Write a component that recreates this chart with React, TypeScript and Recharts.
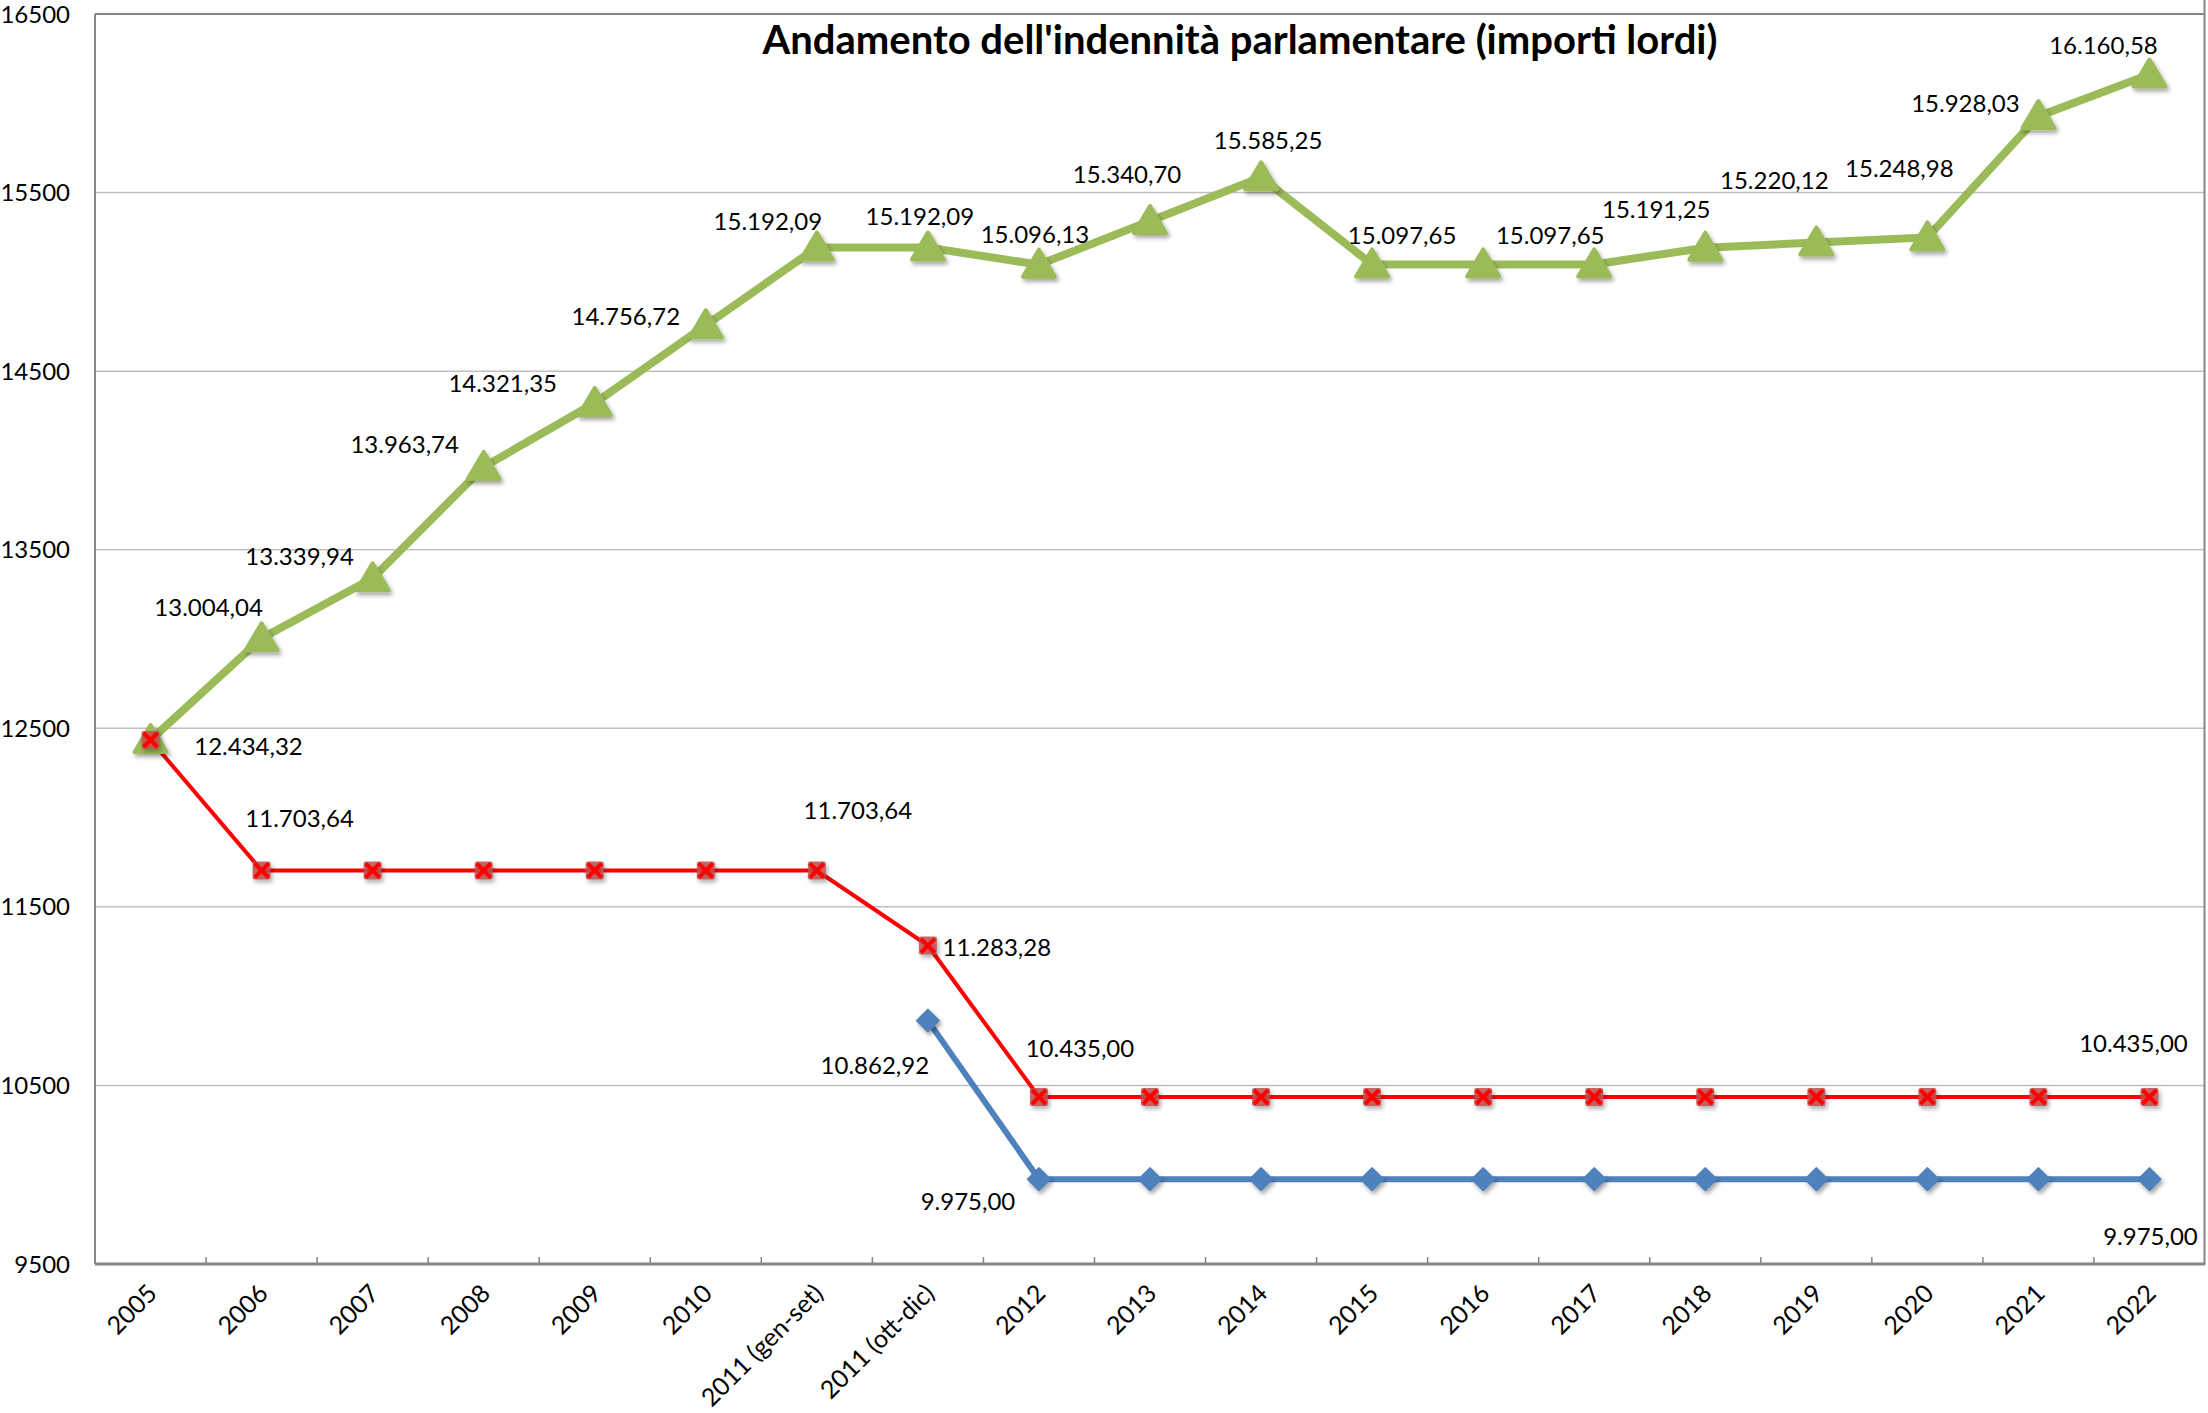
import React from "react";
import {
  LineChart,
  Line,
  XAxis,
  YAxis,
  CartesianGrid,
  ReferenceLine,
} from "recharts";

const categories = [
  "2005", "2006", "2007", "2008", "2009", "2010",
  "2011 (gen-set)", "2011 (ott-dic)",
  "2012", "2013", "2014", "2015", "2016", "2017",
  "2018", "2019", "2020", "2021", "2022",
];

// green line
const verde = [
  12434.32, 13004.04, 13339.94, 13963.74, 14321.35, 14756.72, 15192.09,
  15192.09, 15096.13, 15340.7, 15585.25, 15097.65, 15097.65, 15097.65,
  15191.25, 15220.12, 15248.98, 15928.03, 16160.58,
];

// red line
const rossa = [
  12434.32, 11703.64, 11703.64, 11703.64, 11703.64, 11703.64, 11703.64,
  11283.28, 10435.0, 10435.0, 10435.0, 10435.0, 10435.0, 10435.0,
  10435.0, 10435.0, 10435.0, 10435.0, 10435.0,
];

// blue line (starts in ott-dic 2011)
const blu = [
  null, null, null, null, null, null, null,
  10862.92, 9975.0, 9975.0, 9975.0, 9975.0, 9975.0, 9975.0,
  9975.0, 9975.0, 9975.0, 9975.0, 9975.0,
];

const yTicks = [9500, 10500, 11500, 12500, 13500, 14500, 15500, 16500];

// where each data label sits relative to its point (null = no label)
type Off = [number, number] | null;
const verdeLabelPos: Off[] = [
  null, [-53, -32], [-73, -23], [-79, -23], [-92, -21], [-80, -10], [-49, -27],
  [-8, -32], [-4, -31], [-23, -48], [7, -38], [30, -30], null, [-44, -30],
  [-49, -39], [-42, -63], [-28, -70], [-73, -14], [-46, -30],
];
const rossaLabelPos: Off[] = [
  [98, 5], [38, -53], null, null, null, null, [41, -61],
  [69, 1], [41, -50], null, null, null, null, null,
  null, null, null, null, [-16, -55],
];
const bluLabelPos: Off[] = [
  null, null, null, null, null, null, null,
  [-53, 44], [-71, 21], null, null, null, null, null,
  null, null, null, null, [1, 56],
];

const data = categories.map((name, i) => ({
  name,
  verde: verde[i],
  rossa: rossa[i],
  blu: blu[i],
}));

const FONT = "Lato, 'Open Sans', sans-serif";
const HALF_BAND = 2110 / 19 / 2;

const fmt = (v: number) => {
  const [int, dec] = v.toFixed(2).split(".");
  return int.replace(/\B(?=(\d{3})+(?!\d))/g, ".") + "," + dec;
};

const label = (x: number, y: number, value: number, off: Off) =>
  off ? (
    <text
      x={x + off[0]}
      y={y + off[1]}
      textAnchor="middle"
      dominantBaseline="central"
      fontSize={24}
      fontFamily={FONT}
      fill="#000"
    >
      {fmt(value)}
    </text>
  ) : null;

const triangleDot = (props: any) => {
  const { cx, cy, index, value } = props;
  if (cx == null || cy == null) return <g key={index} />;
  return (
    <g key={index}>
      <polygon
        points={`${cx},${cy - 15} ${cx + 16},${cy + 12} ${cx - 16},${cy + 12}`}
        fill="#9BBB59"
        stroke="#9BBB59"
        strokeWidth={4}
        strokeLinejoin="round"
        filter="url(#shadow)"
      />
      {label(cx, cy, value, verdeLabelPos[index])}
    </g>
  );
};

const crossDot = (props: any) => {
  const { cx, cy, index, value } = props;
  if (cx == null || cy == null) return <g key={index} />;
  return (
    <g key={index}>
      <rect
        x={cx - 9}
        y={cy - 9}
        width={18}
        height={18}
        rx={2}
        fill="#C0504D"
        fillOpacity={0.85}
        filter="url(#shadow)"
      />
      <path
        d={`M${cx - 7},${cy - 7}L${cx + 7},${cy + 7}M${cx + 7},${cy - 7}L${cx - 7},${cy + 7}`}
        stroke="#FF0000"
        strokeWidth={4}
      />
      {label(cx, cy, value, rossaLabelPos[index])}
    </g>
  );
};

const diamondDot = (props: any) => {
  const { cx, cy, index, value } = props;
  if (cx == null || cy == null || value == null) return <g key={index} />;
  return (
    <g key={index}>
      <polygon
        points={`${cx},${cy - 11} ${cx + 11},${cy} ${cx},${cy + 11} ${cx - 11},${cy}`}
        fill="#4F81BD"
        stroke="#4F81BD"
        strokeWidth={2}
        strokeLinejoin="round"
        filter="url(#shadow)"
      />
      {label(cx, cy, value, bluLabelPos[index])}
    </g>
  );
};

const XTick = (props: any) => {
  const { x, y, payload, index } = props;
  const tx = x + 8;
  const ty = y + 31;
  return (
    <g>
      {index > 0 && (
        <line
          x1={x - HALF_BAND}
          x2={x - HALF_BAND}
          y1={y - 7}
          y2={y}
          stroke="#868686"
          strokeWidth={1.5}
        />
      )}
      <text
        x={tx}
        y={ty}
        textAnchor="end"
        fontSize={25}
        fontFamily={FONT}
        fill="#000"
        transform={`rotate(-45, ${tx}, ${ty})`}
      >
        {payload.value}
      </text>
    </g>
  );
};

export default function App() {
  return (
    <div style={{ position: "relative", width: 2208, height: 1413 }}>
      <style>{"body{margin:0}"}</style>
      <LineChart
        width={2208}
        height={1413}
        data={data}
        margin={{ top: 14, right: 3, left: 15, bottom: 9 }}
        style={{ fontFamily: FONT }}
      >
        <defs>
          <filter id="shadow" x="-50%" y="-50%" width="200%" height="200%">
            <feDropShadow dx="2" dy="3" stdDeviation="2" floodColor="#000" floodOpacity="0.35" />
          </filter>
        </defs>
        <CartesianGrid vertical={false} stroke="#BFBFBF" strokeWidth={1.5} />
        <ReferenceLine y={16500} stroke="#868686" strokeWidth={2} />
        <XAxis
          dataKey="name"
          interval={0}
          height={140}
          padding={{ left: HALF_BAND, right: HALF_BAND }}
          axisLine={{ stroke: "#868686", strokeWidth: 3 }}
          tickLine={false}
          tickSize={0}
          tickMargin={0}
          tick={<XTick />}
        />
        <YAxis
          width={80}
          domain={[9500, 16500]}
          ticks={yTicks}
          allowDataOverflow
          axisLine={{ stroke: "#868686", strokeWidth: 2 }}
          tickLine={false}
          tickSize={0}
          tickMargin={25}
          tick={{ fontSize: 24, fill: "#000", fontFamily: FONT }}
        />
        <Line
          dataKey="verde"
          stroke="#9BBB59"
          strokeWidth={8}
          dot={triangleDot}
          activeDot={false}
          isAnimationActive={false}
        />
        <Line
          dataKey="blu"
          stroke="#4F81BD"
          strokeWidth={6}
          dot={diamondDot}
          activeDot={false}
          isAnimationActive={false}
        />
        <Line
          dataKey="rossa"
          stroke="#FF0000"
          strokeWidth={4}
          dot={crossDot}
          activeDot={false}
          isAnimationActive={false}
        />
      </LineChart>
      <svg
        width={2208}
        height={1413}
        style={{ position: "absolute", left: 0, top: 0, pointerEvents: "none" }}
      >
        <line x1={2204.5} x2={2204.5} y1={0} y2={1265} stroke="#868686" strokeWidth={2} />
        <text
          x={1240}
          y={54}
          textAnchor="middle"
          fontSize={40}
          fontWeight="bold"
          fontFamily={FONT}
          fill="#000"
        >
          Andamento dell'indennità parlamentare (importi lordi)
        </text>
      </svg>
    </div>
  );
}
